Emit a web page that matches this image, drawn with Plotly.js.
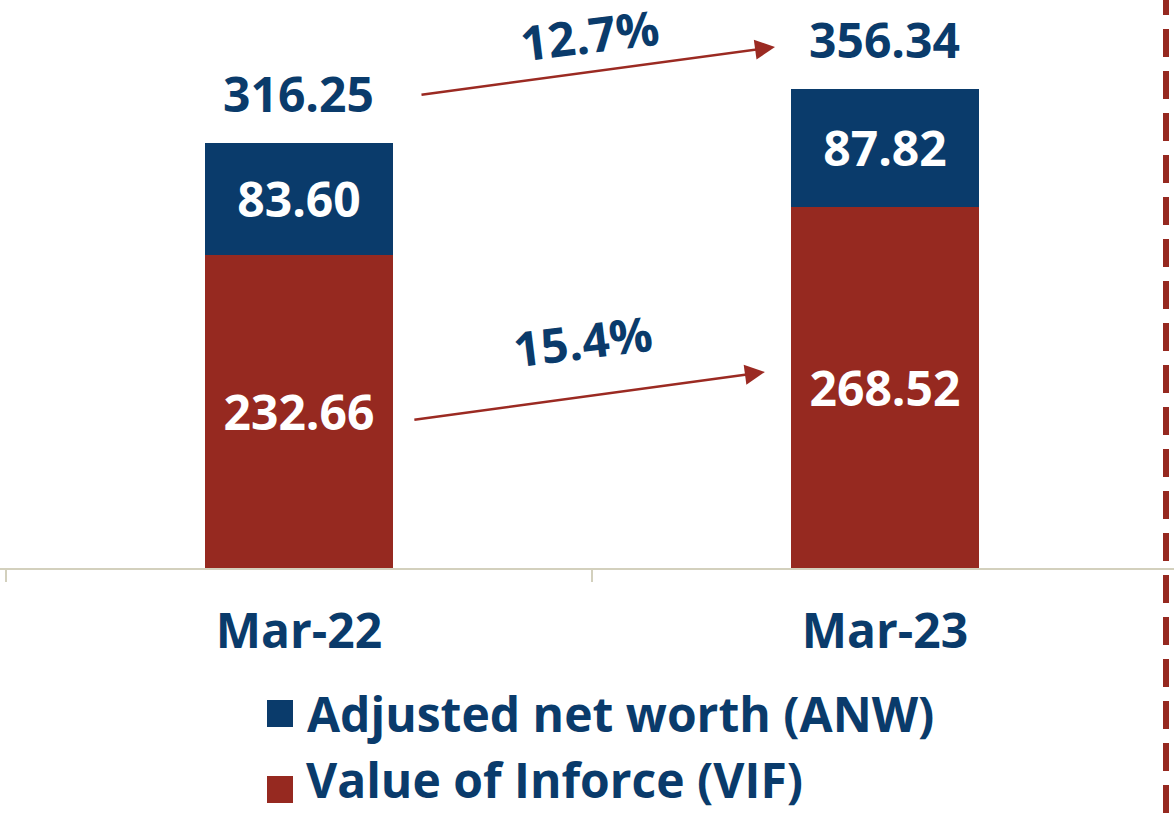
<!DOCTYPE html>
<html>
<head>
<meta charset="utf-8">
<script src="https://cdn.plot.ly/plotly-3.0.1.min.js"></script>
<style>html,body{margin:0;padding:0;background:#fff}#chart{width:1174px;height:813px}</style>
</head>
<body>
<div id="chart"></div>
<script>
const categories = ["Mar-22", "Mar-23"];
const vifValues = [232.66, 268.52];
const anwValues = [83.60, 87.82];
const totalValues = [316.25, 356.34];
const seriesNames = ["Value of Inforce (VIF)", "Adjusted net worth (ANW)"];
const growthLabels = ["12.7%", "15.4%"];

const NAVY = "#0a3b6b";
const RED = "#962920";
const FONT = "'Open Sans', 'Noto Sans', sans-serif";
const FS = 48;

const traces = [
  {
    type: "bar", name: seriesNames[0], x: categories, y: vifValues,
    marker: {color: RED}, width: 0.32,
    text: vifValues.map(v => v.toFixed(2)), textposition: "inside", insidetextanchor: "middle",
    constraintext: "none", textangle: 0,
    textfont: {family: FONT, size: FS, color: "#ffffff", weight: 700},
    hoverinfo: "skip", showlegend: false
  },
  {
    type: "bar", name: seriesNames[1], x: categories, y: anwValues,
    marker: {color: NAVY}, width: 0.32,
    text: anwValues.map(v => v.toFixed(2)), textposition: "inside", insidetextanchor: "middle",
    constraintext: "none", textangle: 0,
    textfont: {family: FONT, size: FS, color: "#ffffff", weight: 700},
    hoverinfo: "skip", showlegend: false
  }
];

const annotations = [];
categories.forEach((c, i) => {
  annotations.push({x: c, y: totalValues[i], xref: "x", yref: "y", yanchor: "bottom", yshift: 15,
    text: totalValues[i].toFixed(2), showarrow: false,
    font: {family: FONT, size: FS, color: NAVY, weight: 700}});
});
annotations.push(
  {x: 0.8123, y: 387.4, xref: "x", yref: "y", ax: -355, ay: 48, axref: "pixel", ayref: "pixel",
   showarrow: true, arrowhead: 2, arrowsize: 1.6, arrowwidth: 2.5, arrowcolor: "#9b2a22", text: ""},
  {x: 0.795, y: 145.7, xref: "x", yref: "y", ax: -352, ay: 48, axref: "pixel", ayref: "pixel",
   showarrow: true, arrowhead: 2, arrowsize: 1.6, arrowwidth: 2.5, arrowcolor: "#9b2a22", text: ""},
  {x: (590 - 6) / 586 - 0.5, y: (568 - 35) / 1.345, xref: "x", yref: "y", text: growthLabels[0],
   showarrow: false, textangle: -7, borderpad: 0, font: {family: FONT, size: FS, color: NAVY, weight: 700}},
  {x: (583 - 6) / 586 - 0.5, y: (568 - 340) / 1.345, xref: "x", yref: "y", text: growthLabels[1],
   showarrow: false, textangle: -7, font: {family: FONT, size: FS, color: NAVY, weight: 700}},
  {x: 305 / 1174, y: -(713 - 568) / 568, xref: "paper", yref: "paper", xanchor: "left", yanchor: "middle",
   text: seriesNames[1], showarrow: false, font: {family: FONT, size: FS, color: NAVY, weight: 700}},
  {x: 305 / 1174, y: -245 / 568, xref: "paper", yref: "paper", xanchor: "left", yanchor: "bottom",
   borderpad: 0, text: seriesNames[0], showarrow: false, font: {family: FONT, size: FS, color: NAVY, weight: 700}}
);

const shapes = [
  {type: "line", xref: "paper", yref: "paper", x0: 1166 / 1174, x1: 1166 / 1174, y0: -245 / 568, y1: 1,
   line: {color: RED, width: 6, dash: "28px,14px"}},
  {type: "rect", xref: "paper", yref: "paper", x0: 267 / 1174, x1: 293 / 1174,
   y0: -(727 - 568) / 568, y1: -(700 - 568) / 568, fillcolor: NAVY, line: {width: 0}},
  {type: "rect", xref: "paper", yref: "paper", x0: 267 / 1174, x1: 293 / 1174,
   y0: -(803 - 568) / 568, y1: -(776 - 568) / 568, fillcolor: RED, line: {width: 0}}
];

const layout = {
  width: 1174, height: 813,
  margin: {l: 0, r: 0, t: 0, b: 245, pad: 0},
  paper_bgcolor: "#ffffff", plot_bgcolor: "#ffffff",
  barmode: "stack",
  showlegend: false,
  xaxis: {
    type: "category", range: [-0.5102, 1.4932], fixedrange: true,
    showline: true, linecolor: "#d3d0bd", linewidth: 2,
    ticks: "outside", tickson: "boundaries", ticklen: 12, tickcolor: "#d3d0bd", tickwidth: 2,
    showgrid: false, zeroline: false,
    tickfont: {family: FONT, size: FS, color: NAVY, weight: 700},
    ticklabelstandoff: 20
  },
  yaxis: {range: [0, 422.3], visible: false, fixedrange: true},
  annotations: annotations,
  shapes: shapes
};

Plotly.newPlot("chart", traces, layout, {displayModeBar: false, staticPlot: true});
</script>
</body>
</html>
